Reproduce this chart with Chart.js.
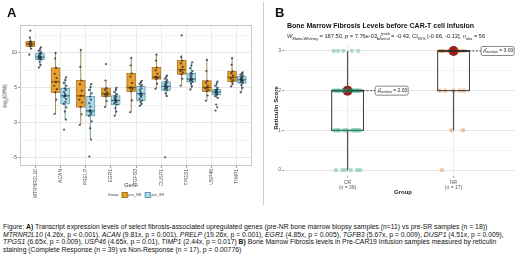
<!DOCTYPE html>
<html>
<head>
<meta charset="utf-8">
<script src="https://cdn.jsdelivr.net/npm/chart.js@4.4.0/dist/chart.umd.min.js"></script>
<style>
body{margin:0;width:520px;height:260px;background:#fff;position:relative;overflow:hidden;font-family:'Liberation Sans',Arial,sans-serif;color:#222}
canvas{position:absolute;top:0}
#chartA{left:0}
#chartB{left:260px}
.t{position:absolute;white-space:nowrap;line-height:1}
.panel{font-weight:bold;font-size:13px;color:#111}
.rot{transform:translate(-50%,-50%) rotate(-90deg)}
.ctr{transform:translate(-50%,-50%)}
#sep{position:absolute;left:263px;top:2px;width:0;height:203px;border-left:1px solid #cfcfcf}
.sw{display:inline-block;width:4px;height:4px;vertical-align:middle;margin:0 1px 0 3px}
#cap{position:absolute;left:3px;top:223px;font-family:'Liberation Sans',Arial,sans-serif;font-size:6.8px;line-height:7.5px;color:#111}
#cap div{white-space:nowrap}
sub,sup{font-size:70%;line-height:0}
</style>
</head>
<body>
<canvas id="chartA" width="260" height="205"></canvas>
<canvas id="chartB" width="260" height="205"></canvas>
<div id="sep"></div>

<div class="t panel" style="left:7px;top:6px">A</div>
<div class="t panel" style="left:275px;top:6px">B</div>

<div class="t rot" style="left:5px;top:96px;font-size:5px;color:#333">log<sub>2</sub>(CPM)</div>
<div class="t ctr" style="left:131px;top:186px;font-size:5.5px;color:#333">Gene</div>
<div class="t ctr" style="left:136px;top:195px;font-size:3.8px;color:#444">Group<span class="sw" style="background:#E8A030;border:0.5px solid #A8731C"></span>pre_NR<span class="sw" style="background:#AEDCEA;border:0.5px solid #5B9DB0"></span>pre_SR</div>

<div class="t" style="left:287px;top:22px;font-size:7px;font-weight:bold;color:#111">Bone Marrow Fibrosis Levels before CAR-T cell infusion</div>
<div class="t" style="left:287px;top:34px;font-size:5.7px;color:#222"><i>W</i><sub>Mann-Whitney</sub> = 187.50, <i>p</i> = 7.76e-03, <i>r̂</i><sup>rank</sup><sub style="margin-left:-13px">biserial</sub> = -0.43, CI<sub>95%</sub> [-0.66, -0.13], <i>n</i><sub>obs</sub> = 56</div>
<div class="t rot" style="left:276px;top:108px;font-size:6px;font-weight:bold;color:#222">Reticulin Score</div>
<div class="t ctr" style="left:403px;top:192px;font-size:6px;font-weight:bold;color:#222">Group</div>

<div id="cap">
<div>Figure: <b>A)</b> Transcript expression levels of select fibrosis-associated upregulated genes (pre-NR bone marrow biopsy samples (n=11) vs pre-SR samples (n = 18))</div>
<div><i>MTRNR2L10</i> (4.26x, p &lt; 0.001), <i>ACAN</i> (9.81x, p = 0.001), <i>PRELP</i> (19.26x, p = 0.001), <i>EGR1</i> (4.85x, p = 0.005), <i>TGFB3</i> (5.67x, p = 0.009), <i>DUSP1</i> (4.51x, p = 0.009),</div>
<div><i>TPGS1</i> (6.65x, p = 0.009), <i>USP46</i> (4.65x, p = 0.01), <i>TIMP1</i> (2.44x, p = 0.017) <b>B)</b> Bone Marrow Fibrosis levels in Pre-CAR19 Infusion samples measured by reticulin</div>
<div>staining (Complete Response (n = 39) vs Non-Response (n = 17), p = 0.00776)</div>
</div>

<script>
// ---- panel A data ----
const genes = ['MTRNR2L10', 'ACAN', 'PRELP', 'EGR1', 'TGFB3', 'DUSP1', 'TPGS1', 'USP46', 'TIMP1'];

// pre_NR box stats (whisker low, q1, median, q3, whisker high)
const nrLow  = [10.6, 1.25, -0.3, 2.25, 1.5, 4.85, 5.3, 3.15, 5.2];
const nrQ1   = [10.95, 4.35, 2.25, 3.75, 4.5, 6.25, 6.95, 4.5, 5.9];
const nrMed  = [11.3, 5.85, 3.85, 4.15, 5.05, 6.55, 7.6, 5.05, 6.5];
const nrQ3   = [11.65, 7.85, 6.05, 4.95, 7.05, 7.9, 8.9, 6.0, 7.35];
const nrHigh = [12.2, 10.0, 10.45, 6.05, 9.3, 9.75, 9.75, 9.0, 9.25];

// pre_SR box stats
const srLow  = [7.9, 0.45, -2.4, 1.0, 2.4, 3.8, 4.75, 3.55, 4.35];
const srQ1   = [9.05, 2.7, 1.0, 2.6, 3.2, 4.65, 5.85, 4.0, 5.7];
const srMed  = [9.4, 3.85, 1.7, 3.2, 4.15, 5.2, 6.25, 4.4, 6.15];
const srQ3   = [9.9, 4.9, 3.75, 3.85, 5.2, 5.85, 7.1, 4.75, 6.65];
const srHigh = [10.8, 6.5, 5.55, 5.0, 6.0, 6.75, 8.65, 5.9, 7.2];

// samples per gene
const nrPoints = [
  [9.75, 10.6, 10.95, 11.0, 11.2, 11.3, 11.4, 11.6, 11.65, 12.2, 13.2],
  [1.25, 3.3, 4.35, 4.8, 5.3, 5.85, 6.4, 7.0, 7.85, 9.2, 10.0],
  [-0.3, 1.2, 2.25, 2.9, 3.3, 3.85, 4.6, 5.5, 6.05, 8.0, 10.45],
  [2.25, 3.1, 3.75, 3.95, 4.05, 4.15, 4.4, 4.7, 4.95, 6.05, 8.4],
  [1.5, 3.2, 4.5, 4.8, 4.95, 5.05, 5.7, 6.6, 7.05, 8.2, 9.3],
  [4.85, 5.6, 6.25, 6.4, 6.5, 6.55, 7.0, 7.5, 7.9, 8.9, 9.75],
  [5.3, 6.3, 6.95, 7.2, 7.4, 7.6, 8.0, 8.5, 8.9, 9.4, 12.5],
  [3.15, 3.9, 4.5, 4.7, 4.9, 5.05, 5.3, 5.7, 6.0, 7.4, 9.0],
  [5.2, 5.6, 5.9, 6.1, 6.3, 6.5, 6.8, 7.1, 7.35, 8.3, 9.25]
];
const srPoints = [
  [7.9, 8.3, 8.7, 9.05, 9.1, 9.2, 9.3, 9.35, 9.4, 9.45, 9.5, 9.6, 9.8, 9.9, 10.1, 10.3, 10.5, 10.8],
  [-1.0, 0.45, 1.6, 2.2, 2.7, 3.0, 3.4, 3.7, 3.85, 3.9, 4.1, 4.4, 4.7, 4.9, 5.3, 5.7, 6.1, 6.5],
  [-4.85, -2.4, -0.8, 0.2, 1.0, 1.2, 1.4, 1.6, 1.7, 1.8, 2.3, 2.8, 3.3, 3.75, 4.2, 4.7, 5.1, 5.55],
  [1.0, 1.6, 2.1, 2.6, 2.8, 2.95, 3.05, 3.15, 3.2, 3.3, 3.45, 3.6, 3.75, 3.85, 4.1, 4.4, 4.7, 5.0],
  [2.4, 2.7, 3.0, 3.2, 3.4, 3.7, 3.9, 4.0, 4.15, 4.2, 4.4, 4.7, 4.9, 5.2, 5.4, 5.6, 5.8, 6.0],
  [-4.95, 3.8, 4.2, 4.65, 4.8, 4.9, 5.0, 5.1, 5.2, 5.25, 5.4, 5.5, 5.7, 5.85, 6.1, 6.3, 6.5, 6.75],
  [4.75, 5.2, 5.6, 5.85, 6.0, 6.1, 6.2, 6.25, 6.3, 6.4, 6.6, 6.8, 6.95, 7.1, 7.4, 7.8, 8.2, 8.65],
  [1.75, 2.2, 2.6, 3.55, 3.8, 4.0, 4.1, 4.2, 4.35, 4.4, 4.5, 4.6, 4.7, 4.75, 5.0, 5.3, 5.6, 5.9],
  [4.35, 5.0, 5.4, 5.7, 5.8, 5.9, 6.0, 6.1, 6.15, 6.2, 6.3, 6.4, 6.5, 6.65, 6.8, 6.9, 7.05, 7.2]
];
const yTicksA = [-5, 0, 5, 10];

// ---- panel B data ----
const groupsB = ['CR', 'NR'];
const countsB = ['(n = 39)', '(n = 17)'];
const crScores = [0,0,0,0,0,0, 1,1,1,1,1,1,1,1,1,1,1,1,1, 2,2,2,2,2,2,2,2,2,2,2,2,2,2,2, 3,3,3,3,3];
const nrScores = [0, 1,1, 2,2,2,2,2, 3,3,3,3,3,3,3,3,3];
const bLow  = [0, 1];
const bQ1   = [1, 2];
const bMed  = [2, 3];
const bQ3   = [2, 3];
const bHigh = [3, 3];
const medLabels = ['2.00', '3.00'];
const yTicksB = [0, 1, 2, 3];

Chart.defaults.font.family = "'Liberation Sans', Arial, sans-serif";

// small fixed horizontal spread so the dots don't sit on one line
const jitA = [-0.04, 0.03, -0.01, 0.05, -0.05, 0.01, 0.04, -0.03, 0.02, -0.02, 0.0];
const jitB = [-0.11, 0.03, -0.05, 0.09, -0.02, 0.12, -0.08, 0.06, 0.0, -0.13, 0.1, -0.04, 0.04, -0.09, 0.07];
const shiftNR = -0.19, shiftSR = 0.19, halfA = 0.17;

function pointsA(list, shift) {
  let out = [];
  list.forEach((vals, i) => vals.forEach((v, k) => out.push({x: i + 1 + shift + jitA[k % jitA.length], y: v})));
  return out;
}

function pointsB(scores, pos) {
  let seen = {};
  return scores.map(s => {
    let k = seen[s] = (seen[s] || 0) + 1;
    return {x: pos + jitB[(k - 1 + s * 3) % jitB.length], y: s};
  });
}

function drawBox(ctx, xs, ys, cx, half, lo, q1, med, q3, hi, st) {
  let l = xs.getPixelForValue(cx - half), r = xs.getPixelForValue(cx + half), c = xs.getPixelForValue(cx);
  let yLo = ys.getPixelForValue(lo), yQ1 = ys.getPixelForValue(q1), yMed = ys.getPixelForValue(med);
  let yQ3 = ys.getPixelForValue(q3), yHi = ys.getPixelForValue(hi);
  ctx.strokeStyle = st.whisker;
  ctx.lineWidth = st.wl;
  ctx.beginPath();
  ctx.moveTo(c, yHi); ctx.lineTo(c, yQ3);
  ctx.moveTo(c, yQ1); ctx.lineTo(c, yLo);
  ctx.stroke();
  if (st.fill) {
    ctx.fillStyle = st.fill;
    ctx.fillRect(l, yQ3, r - l, yQ1 - yQ3);
  }
  ctx.strokeStyle = st.border;
  ctx.lineWidth = st.bl;
  ctx.strokeRect(l, yQ3, r - l, yQ1 - yQ3);
  ctx.strokeStyle = st.median;
  ctx.lineWidth = st.ml;
  ctx.beginPath();
  ctx.moveTo(l, yMed); ctx.lineTo(r, yMed);
  ctx.stroke();
}

const styleNR = {fill: '#E8A030', border: '#A8731C', whisker: '#8a6a3a', median: '#7a4f0e', wl: 0.8, bl: 0.8, ml: 1.2};
const styleSR = {fill: '#AEDCEA', border: '#5B9DB0', whisker: '#4d7f8e', median: '#2f6f80', wl: 0.8, bl: 0.8, ml: 1.2};

const boxPluginA = {
  id: 'boxA',
  beforeDatasetsDraw(chart) {
    const {ctx, chartArea: a} = chart;
    const xs = chart.scales.x, ys = chart.scales.y;
    ctx.save();
    ctx.strokeStyle = '#c8c8c8';
    ctx.lineWidth = 1;
    ctx.strokeRect(a.left + 0.5, a.top + 0.5, a.width - 1, a.height - 1);
    genes.forEach((g, i) => {
      drawBox(ctx, xs, ys, i + 1 + shiftNR, halfA, nrLow[i], nrQ1[i], nrMed[i], nrQ3[i], nrHigh[i], styleNR);
      drawBox(ctx, xs, ys, i + 1 + shiftSR, halfA, srLow[i], srQ1[i], srMed[i], srQ3[i], srHigh[i], styleSR);
    });
    ctx.restore();
  }
};

new Chart(document.getElementById('chartA'), {
  type: 'scatter',
  data: {
    datasets: [
      {label: 'pre_NR', data: pointsA(nrPoints, shiftNR), pointRadius: 1.1, backgroundColor: 'rgba(55,45,35,0.8)', borderWidth: 0},
      {label: 'pre_SR', data: pointsA(srPoints, shiftSR), pointRadius: 1.1, backgroundColor: 'rgba(35,50,60,0.8)', borderWidth: 0}
    ]
  },
  options: {
    responsive: false,
    animation: false,
    events: [],
    layout: {padding: {left: 0, top: 25, right: 8, bottom: 0}},
    plugins: {legend: {display: false}, tooltip: {enabled: false}},
    scales: {
      x: {
        type: 'linear', min: 0.4, max: 9.6,
        afterBuildTicks: s => { s.ticks = genes.map((g, i) => ({value: i + 1})); },
        afterFit: s => { s.height = 39; },
        ticks: {callback: v => genes[v - 1], minRotation: 90, maxRotation: 90, autoSkip: false, font: {size: 5}, color: '#4d4d4d', padding: 1},
        grid: {color: '#ececec', tickLength: 2, tickColor: '#999'},
        border: {display: false}
      },
      y: {
        min: -6.2, max: 14,
        afterBuildTicks: s => { s.ticks = [-5, -2.5, 0, 2.5, 5, 7.5, 10, 12.5].map(v => ({value: v})); },
        afterFit: s => { s.width = 20; },
        ticks: {callback: v => yTicksA.includes(v) ? v : '', font: {size: 5}, color: '#4d4d4d', padding: 1},
        grid: {
          color: c => yTicksA.includes(c.tick.value) ? '#e6e6e6' : '#f3f3f3',
          tickColor: c => yTicksA.includes(c.tick.value) ? '#999' : 'rgba(0,0,0,0)',
          tickLength: 2
        },
        border: {display: false}
      }
    }
  },
  plugins: [boxPluginA]
});

// ---- panel B ----
const styleB = {fill: null, border: '#3a3a3a', whisker: '#555', median: '#222', wl: 1.3, bl: 1, ml: 1.6};

const boxPluginB = {
  id: 'boxB',
  afterDatasetDraw(chart, args) {
    if (args.index !== 1) return;
    const {ctx} = chart;
    const xs = chart.scales.x, ys = chart.scales.y;
    ctx.save();
    groupsB.forEach((g, i) => {
      drawBox(ctx, xs, ys, i + 1, 0.15, bLow[i], bQ1[i], bMed[i], bQ3[i], bHigh[i], styleB);
    });
    ctx.restore();
  },
  afterDatasetsDraw(chart) {
    const {ctx} = chart;
    const xs = chart.scales.x, ys = chart.scales.y;
    ctx.save();
    groupsB.forEach((g, i) => {
      let cx = xs.getPixelForValue(i + 1), cy = ys.getPixelForValue(bMed[i]);
      let lx = xs.getPixelForValue(i + 1.26);
      ctx.strokeStyle = '#222';
      ctx.lineWidth = 0.8;
      ctx.setLineDash([2, 1.5]);
      ctx.beginPath();
      ctx.moveTo(cx + 5, cy); ctx.lineTo(lx, cy);
      ctx.stroke();
      ctx.setLineDash([]);
      // label box
      let w = 33, h = 9;
      ctx.fillStyle = '#fff';
      ctx.strokeStyle = '#666';
      ctx.lineWidth = 0.8;
      ctx.beginPath();
      ctx.roundRect(lx, cy - h / 2, w, h, 1.5);
      ctx.fill();
      ctx.stroke();
      ctx.fillStyle = '#222';
      ctx.textBaseline = 'middle';
      ctx.font = "italic 5px 'Liberation Sans', Arial, sans-serif";
      let tx = lx + 2.5;
      ctx.fillText('μ̂', tx, cy);
      tx += ctx.measureText('μ̂').width;
      ctx.font = "italic 3.5px 'Liberation Sans', Arial, sans-serif";
      ctx.fillText('median', tx, cy + 1.3);
      tx += ctx.measureText('median').width;
      ctx.font = "5px 'Liberation Sans', Arial, sans-serif";
      ctx.fillText(' = ' + medLabels[i], tx, cy);
    });
    ctx.restore();
  }
};

new Chart(document.getElementById('chartB'), {
  type: 'scatter',
  data: {
    datasets: [
      {label: 'CR', data: pointsB(crScores, 1), pointRadius: 2.3, backgroundColor: 'rgba(27,158,119,0.32)', borderWidth: 0},
      {label: 'NR', data: pointsB(nrScores, 2), pointRadius: 2.3, backgroundColor: 'rgba(217,95,2,0.32)', borderWidth: 0},
      {label: 'median', data: bMed.map((m, i) => ({x: i + 1, y: m})), pointRadius: 5, backgroundColor: '#9b1c1c', borderWidth: 0}
    ]
  },
  options: {
    responsive: false,
    animation: false,
    events: [],
    layout: {padding: {left: 0, top: 45, right: 0, bottom: 0}},
    plugins: {legend: {display: false}, tooltip: {enabled: false}},
    scales: {
      x: {
        type: 'linear', min: 0.4, max: 2.58,
        afterBuildTicks: s => { s.ticks = groupsB.map((g, i) => ({value: i + 1})); },
        afterFit: s => { s.height = 29; },
        ticks: {callback: v => [groupsB[v - 1], countsB[v - 1]], font: {size: 5, lineHeight: 1.0}, color: '#555', padding: 2, maxRotation: 0},
        grid: {color: '#ececec', tickLength: 2, tickColor: '#aaa'},
        border: {display: false}
      },
      y: {
        min: -0.15, max: 3.15,
        afterBuildTicks: s => { s.ticks = [0, 0.5, 1, 1.5, 2, 2.5, 3].map(v => ({value: v})); },
        afterFit: s => { s.width = 24; },
        ticks: {callback: v => yTicksB.includes(v) ? v : '', font: {size: 5}, color: '#555', padding: 1},
        grid: {
          color: c => yTicksB.includes(c.tick.value) ? '#e6e6e6' : '#f4f4f4',
          tickColor: c => yTicksB.includes(c.tick.value) ? '#999' : 'rgba(0,0,0,0)',
          tickLength: 2
        },
        border: {display: false}
      }
    }
  },
  plugins: [boxPluginB]
});
</script>
</body>
</html>
